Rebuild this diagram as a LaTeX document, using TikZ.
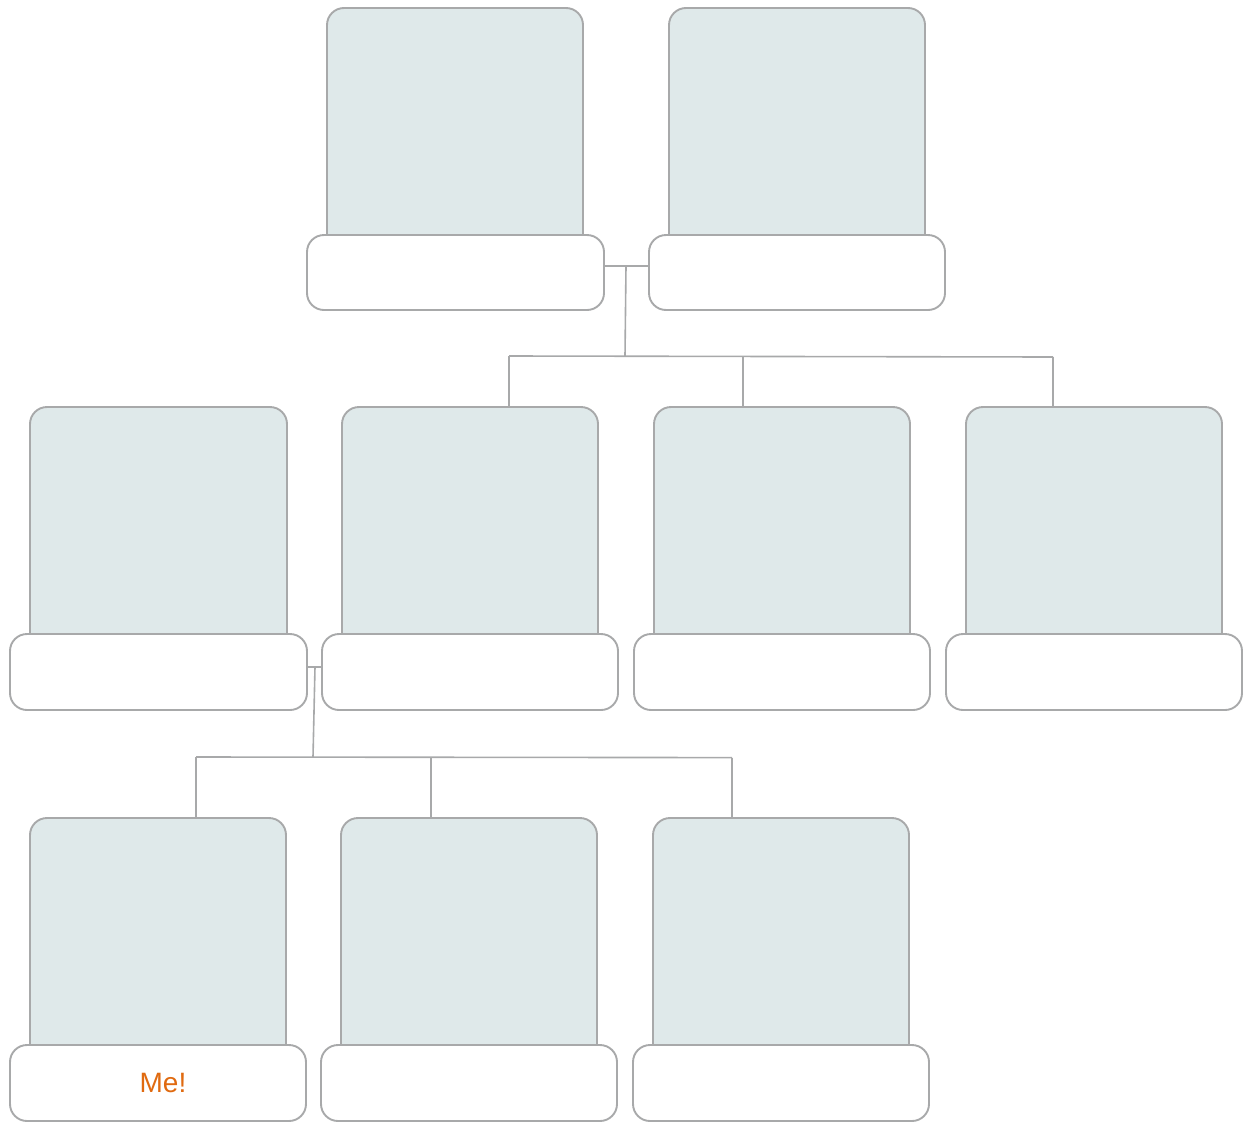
\documentclass[tikz,border=0pt]{standalone}
\usepackage{fontspec}
\setsansfont{Liberation Sans}
\definecolor{edge}{RGB}{168,169,170}
\definecolor{photofill}{RGB}{223,233,234}
\definecolor{meorange}{RGB}{224,106,16}
\begin{document}
\begin{tikzpicture}[x=1pt,y=-1pt,
  photo/.style={draw=edge,fill=photofill,line width=1.9pt,rounded corners=17pt,
    minimum height=260pt,anchor=north,inner sep=0pt,outer sep=0pt},
  lab/.style={draw=edge,fill=white,line width=1.9pt,rounded corners=17pt,
    minimum height=76pt,minimum width=296pt,anchor=north,inner sep=0pt,outer sep=0pt},
  conn/.style={draw=edge,line width=1.6pt}]
\useasboundingbox (0,0) rectangle (1245,1122);
% row 1
\node[photo,minimum width=256pt] (p1) at (455,8) {};
\node[photo,minimum width=256pt] (p2) at (797,8) {};
\node[lab,minimum height=75pt,minimum width=297pt] (l1) at (455.5,235) {};
\node[lab,minimum height=75pt] (l2) at (797,235) {};
% row 2
\node[photo,minimum width=257pt] (p21) at (158.5,407) {};
\node[photo,minimum width=256pt] (p22) at (470,407) {};
\node[photo,minimum width=256pt] (p23) at (782,407) {};
\node[photo,minimum width=256pt] (p24) at (1094,407) {};
\node[lab,minimum width=297pt] (l21) at (158.5,634) {};
\node[lab] (l22) at (470,634) {};
\node[lab] (l23) at (782,634) {};
\node[lab] (l24) at (1094,634) {};
% row 3
\node[photo,minimum width=256pt] (p31) at (158,818) {};
\node[photo,minimum width=256pt] (p32) at (469,818) {};
\node[photo,minimum width=256pt] (p33) at (781,818) {};
\node[lab] (l31) at (158,1045) {};
\node[lab] (l32) at (469,1045) {};
\node[lab] (l33) at (781,1045) {};
\node[font=\sffamily\fontsize{28}{30}\selectfont,text=meorange] (me) at (163,1083) {Me!};
% connectors level 1
\coordinate (j1) at (626,266);
\coordinate (b1) at (625,356);
\coordinate (c11) at (509,356);
\coordinate (c12) at (743,356.5);
\coordinate (c13) at (1053,357);
\draw[conn] (l1.east |- j1) -- (l2.west |- j1);
\draw[conn] (j1) -- (b1);
\draw[conn] (c11) -- (c13);
\draw[conn] (c11) -- (c11 |- p22.north);
\draw[conn] (c12) -- (c12 |- p23.north);
\draw[conn] (c13) -- (c13 |- p24.north);
% connectors level 2
\coordinate (j2) at (315,667);
\coordinate (b2) at (313,757);
\coordinate (c21) at (196,757);
\coordinate (c22) at (431,757.3);
\coordinate (c23) at (732,757.6);
\draw[conn] (l21.east |- j2) -- (l22.west |- j2);
\draw[conn] (j2) -- (b2);
\draw[conn] (c21) -- (c23);
\draw[conn] (c21) -- (c21 |- p31.north);
\draw[conn] (c22) -- (c22 |- p32.north);
\draw[conn] (c23) -- (c23 |- p33.north);
\end{tikzpicture}
\end{document}
